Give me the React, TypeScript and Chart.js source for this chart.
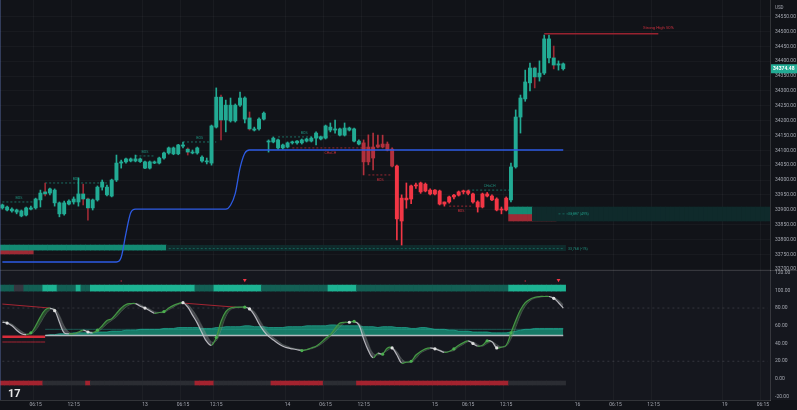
import React, { useEffect, useRef } from "react";
import { Chart, registerables } from "chart.js";

Chart.register(...registerables);

const FONT = "Roboto, 'DejaVu Sans', sans-serif";
const SLOTS = 162;

// time axis labels: [slot index, text]
const timeTicks: [number, string][] = [
  [7, "06:15"], [15, "12:15"], [30, "13"], [38, "06:15"], [45, "12:15"], [60, "14"],
  [68, "06:15"], [76, "12:15"], [91, "15"], [98, "06:15"], [106, "12:15"], [121, "16"],
  [129, "06:15"], [137, "12:15"], [152, "19"], [160, "06:15"],
];
const priceTicks = [
  34550, 34500, 34450, 34400, 34350, 34300, 34250, 34200, 34150, 34100,
  34050, 34000, 33950, 33900, 33850, 33800, 33750, 33700,
];
const oscTicks = [120, 100, 80, 60, 40, 20, 0, -20];

const opens = [
  33906, 33909, 33902, 33899, 33896, 33882, 33906, 33906, 33933, 33960,
  33956, 33966, 33923, 33886, 33919, 33926, 33926, 33953, 33936, 33906,
  33933, 33976, 33976, 33946, 34000, 34057, 34061, 34071, 34064, 34071,
  34061, 34040, 34061, 34057, 34074, 34091, 34108, 34088, 34118, 34104,
  34094, 34091, 34077, 34064, 34057, 34178, 34279, 34202, 34252, 34199,
  34252, 34276, 34209, 34172, 34172, 34205, 34131, 34128, 34108, 34118,
  34111, 34125, 34125, 34125, 34131, 34131, 34141, 34145, 34141, 34178,
  34168, 34172, 34151, 34175, 34172, 34131, 34125, 34061, 34111, 34118,
  34111, 34121, 34104, 34047, 33939, 33939, 33936, 33980, 33960, 33986,
  33966, 33953, 33963, 33919, 33926, 33943, 33949, 33960, 33963, 33953,
  33926, 33909, 33953, 33946, 33936, 33899, 33899, 33933, 34044, 34212,
  34273, 34327, 34377, 34347, 34360, 34475, 34411, 34387, 34391,
];
const highs = [
  33919, 33912, 33906, 33902, 33899, 33909, 33912, 33939, 33966, 33990,
  33973, 33970, 33926, 33929, 33933, 33943, 34007, 33986, 33939, 33936,
  33980, 34000, 33983, 34003, 34084, 34067, 34074, 34074, 34084, 34074,
  34064, 34064, 34064, 34077, 34094, 34111, 34111, 34120, 34128, 34108,
  34101, 34111, 34081, 34074, 34185, 34310, 34286, 34269, 34276, 34256,
  34296, 34280, 34229, 34178, 34209, 34229, 34135, 34145, 34138, 34121,
  34128, 34131, 34133, 34138, 34141, 34145, 34162, 34148, 34185, 34192,
  34202, 34175, 34192, 34178, 34175, 34135, 34135, 34152, 34158, 34151,
  34151, 34128, 34108, 34050, 33950, 33990, 33983, 33990, 33993, 33990,
  33970, 33968, 33966, 33926, 33946, 33952, 33963, 33966, 33966, 33956,
  33930, 33956, 33958, 33950, 33940, 33909, 33943, 34057, 34236, 34286,
  34370, 34394, 34380, 34401, 34488, 34488, 34451, 34401, 34394,
];
const lows = [
  33902, 33896, 33892, 33886, 33876, 33879, 33899, 33902, 33909, 33946,
  33950, 33912, 33876, 33882, 33916, 33919, 33912, 33916, 33865, 33899,
  33929, 33966, 33946, 33943, 33995, 34040, 34057, 34061, 34061, 34059,
  34038, 34037, 34055, 34054, 34070, 34087, 34085, 34085, 34108, 34084,
  34088, 34087, 34060, 34054, 34050, 34175, 34135, 34162, 34195, 34195,
  34248, 34192, 34168, 34165, 34168, 34202, 34094, 34125, 34104, 34104,
  34108, 34121, 34121, 34121, 34128, 34128, 34118, 34135, 34138, 34162,
  34158, 34148, 34148, 34165, 34128, 34118, 34017, 34051, 34034, 34108,
  34108, 34098, 34044, 33798, 33781, 33905, 33920, 33972, 33955, 33960,
  33950, 33950, 33916, 33912, 33922, 33936, 33946, 33953, 33950, 33922,
  33892, 33906, 33943, 33930, 33896, 33886, 33896, 33926, 34040, 34158,
  34265, 34300, 34310, 34333, 34355, 34394, 34374, 34370, 34370,
];
const closes = [
  33916, 33899, 33896, 33892, 33879, 33906, 33902, 33936, 33956, 33953,
  33970, 33923, 33886, 33923, 33929, 33936, 33953, 33936, 33906, 33933,
  33976, 33993, 33950, 34000, 34057, 34061, 34071, 34064, 34071, 34062,
  34040, 34061, 34057, 34074, 34091, 34108, 34088, 34118, 34114, 34094,
  34091, 34108, 34064, 34061, 34182, 34279, 34202, 34252, 34199, 34252,
  34276, 34205, 34172, 34168, 34205, 34225, 34128, 34141, 34135, 34108,
  34125, 34128, 34131, 34135, 34138, 34141, 34158, 34138, 34182, 34168,
  34172, 34151, 34175, 34168, 34131, 34121, 34061, 34111, 34074, 34111,
  34121, 34101, 34047, 33869, 33862, 33933, 33980, 33983, 33990, 33963,
  33953, 33966, 33919, 33926, 33943, 33949, 33960, 33963, 33955, 33926,
  33909, 33953, 33946, 33933, 33899, 33899, 33939, 34044, 34212, 34276,
  34330, 34377, 34347, 34360, 34475, 34411, 34387, 34391, 34374.48,
];

// trend state of each candle range
const trendSegments: [number, number, string][] = [
  [0, 75, "bull"], [76, 82, "bearWeak"], [83, 106, "bear"], [107, 118, "bull"],
];
const redWickIdx = [9, 17, 18, 39, 46, 52, 112, 116];

// blue trailing line, stepped levels [from, to, price]
const blueLevels: [number, number, number][] = [
  [0, 24, 33724], [25, 25, 33740], [26, 26, 33820], [27, 27, 33890], [28, 47, 33902],
  [48, 48, 33915], [49, 49, 33955], [50, 50, 34040], [51, 51, 34090], [52, 118, 34101],
];

// order-block zones
const zones = [
  { from: 35, to: 118, lo: 33762, hi: 33780, kind: "bullFaint" },
  { from: 0, to: 34, lo: 33764, hi: 33781, kind: "bull" },
  { from: 0, to: 6, lo: 33751, hi: 33764, kind: "bear" },
  { from: 112, to: 161, lo: 33862, hi: 33909, kind: "bullFaint" },
  { from: 107, to: 111, lo: 33886, hi: 33909, kind: "bull" },
  { from: 107, to: 116, lo: 33862, hi: 33886, kind: "bear" },
];
const zoneMidLevels: [number, number, number][] = [[35, 118, 33769], [117, 121, 33886]];
const zoneLabels: [number, number, string][] = [[119, 33886, "33,897 (49%)"], [119, 33769, "33,768 (-1%)"]];

// market structure breaks
const structures = [
  { from: 0, to: 7, price: 33926, label: "BOS", bull: true },
  { from: 9, to: 22, price: 33990, label: "BOS", bull: true },
  { from: 28, to: 32, price: 34081, label: "BOS", bull: true },
  { from: 38, to: 45, price: 34128, label: "BOS", bull: true },
  { from: 58, to: 69, price: 34145, label: "BOS", bull: true },
  { from: 61, to: 77, price: 34108, label: "CHoCH", bull: false },
  { from: 77, to: 82, price: 34017, label: "BOS", bull: false },
  { from: 94, to: 99, price: 33912, label: "BOS", bull: false },
  { from: 98, to: 107, price: 33966, label: "CHoCH", bull: true },
];
const strongHigh = { from: 114, to: 138, price: 34492, label: "Strong High 50%" };

// lower pane oscillator
const osc = [
  64, 63, 60, 55, 51, 50, 52, 60, 70, 78,
  80, 77, 64, 52, 51, 51, 53, 55, 53, 52,
  55, 60, 66, 68, 74, 80, 84, 85, 85, 82,
  80, 77, 74, 75, 76, 80, 83, 85, 86, 81,
  72, 63, 52, 42, 38, 47, 65, 76, 80, 81,
  81, 81, 79, 72, 62, 54, 48, 44, 40, 37,
  35, 34, 33, 32, 33, 35, 37, 41, 46, 50,
  57, 63, 64, 64, 65, 61, 45, 32, 24, 29,
  28, 35, 35, 27, 18, 19, 20, 27, 31, 34,
  35, 34, 32, 30, 31, 34, 38, 41, 43, 40,
  37, 38, 43, 42, 35, 36, 38, 52, 66, 78,
  86, 90, 92, 93, 93, 93, 91, 86, 80,
];
const signal = [
  66, 64, 62, 58, 54, 51, 51, 55, 63, 72,
  78, 79, 72, 60, 53, 51, 52, 54, 54, 53,
  53, 57, 62, 66, 70, 76, 81, 84, 85, 84,
  81, 79, 76, 75, 75, 78, 81, 84, 85, 84,
  78, 70, 60, 50, 42, 43, 55, 70, 78, 80,
  81, 81, 80, 76, 68, 59, 52, 47, 43, 39,
  37, 35, 34, 33, 33, 34, 36, 39, 43, 48,
  53, 59, 63, 64, 64, 63, 54, 40, 29, 27,
  29, 32, 35, 31, 23, 19, 19, 23, 29, 32,
  34, 35, 33, 31, 31, 32, 36, 39, 42, 42,
  39, 37, 40, 42, 39, 36, 37, 45, 58, 72,
  82, 88, 91, 92, 93, 93, 92, 89, 84,
];
const tealTop = [
  null, null, null, null, null, null, null, null, null,
  49, 50, 50, 51, 51, 51, 52, 52, 52, 52,
  52, 53, 53, 53, 54, 54, 54, 55, 55, 55,
  56, 56, 56, 56, 56, 57, 57, 57, 58, 58,
  58, 58, 58, 57, 57, 57, 58, 58, 59, 59,
  59, 59, 60, 60, 59, 59, 59, 58, 58, 58,
  58, 59, 59, 59, 59, 60, 60, 60, 60, 60,
  61, 61, 60, 60, 60, 60, 60, 59, 59, 59,
  58, 59, 59, 59, 58, 58, 58, 57, 57, 58,
  58, 57, 56, 56, 56, 55, 55, 54, 54, 54,
  53, 53, 53, 53, 52, 52, 52, 52, 53, 54,
  55, 56, 56, 57, 57, 57, 57, 57, 57, 57,
];
const baseLevel: [number, number, number] = [9, 118, 49];
const flatTealLevel: [number, number, number] = [9, 118, 56];
const dashedLevels = [80, 20];
const whiteDotIdx = [1, 11, 18, 30, 38, 52, 73, 82, 91, 99, 104, 116];
const greenDotIdx = [6, 20, 34, 45, 51, 63, 74, 80, 86, 95, 102, 107];
const triangleIdx = [51, 117];
const triangleLevel = 111.5;
const tinyDotIdx = [25, 110];
const redThick: [number, number, number] = [0, 9, 47.5];
const redThin: [number, number, number] = [0, 9, 41.7];
const redDiagonals: [number, number, number, number][] = [[0, 84.5, 10, 80], [38, 85.6, 49, 81]];

// state bands: 0 neutral, 1 weak, 2 strong
const topBandSegs: [number, number, number][] = [
  [0, 2, 1], [3, 4, 0], [5, 8, 1], [9, 11, 2], [12, 15, 1], [16, 16, 2], [17, 18, 1],
  [19, 40, 2], [41, 44, 1], [45, 54, 2], [55, 68, 1], [69, 74, 2], [75, 106, 1], [107, 118, 2],
];
const bottomBandSegs: [number, number, number][] = [
  [0, 8, 1], [9, 17, 0], [18, 18, 1], [19, 40, 0], [41, 44, 1], [45, 56, 0],
  [57, 67, 1], [68, 74, 0], [75, 106, 1], [107, 118, 0],
];
const topBandRange = [99.1, 105.9];
const bottomBandRange = [-6.8, -2.3];

function expand<T>(segs: [number, number, T][]): (T | null)[] {
  const out: (T | null)[] = new Array(SLOTS).fill(null);
  segs.forEach(([a, b, v]) => { for (let i = a; i <= b; i++) out[i] = v; });
  return out;
}
function pad<T>(arr: T[]): (T | null)[] {
  const out: (T | null)[] = new Array(SLOTS).fill(null);
  arr.forEach((v, i) => (out[i] = v));
  return out;
}

const BULL = "#22ab94";
const BEAR = "#f23645";
const BEAR_WEAK = "#b3313d";
const TXT = "#a3a6af";

export default function App() {
  const ref = useRef<HTMLCanvasElement>(null);

  useEffect(() => {
    const canvas = ref.current!;
    const labels = Array.from({ length: SLOTS }, (_, i) => {
      const t = timeTicks.find((l) => l[0] === i);
      return t ? t[1] : "";
    });
    const trend = expand(trendSegments);
    const candleColor = trend.map((t) => (t === "bull" ? BULL : t === "bearWeak" ? BEAR_WEAK : BEAR));
    const wickColor = candleColor.map((c, i) => (redWickIdx.includes(i) ? "#9c2a35" : c));
    const wickData = pad(lows.map((l, i) => [l, highs[i]]));
    const bodyData = pad(opens.map((o, i) => [o, closes[i]]));

    const zoneColor: Record<string, string> = { bull: "#138a73", bullFaint: "#0f2a2b", bear: "#9e2a35" };
    const barBase = { type: "bar", grouped: false, barPercentage: 1, categoryPercentage: 1, borderWidth: 0, borderSkipped: false };
    const lineBase = { type: "line", pointRadius: 0, borderWidth: 1, spanGaps: false, tension: 0, fill: false };

    const datasets: any[] = [];
    zones.forEach((z) => {
      datasets.push({
        ...barBase, yAxisID: "y", order: 30,
        data: expand([[z.from, z.to, [z.lo, z.hi]] as [number, number, number[]]]),
        backgroundColor: zoneColor[z.kind],
      });
    });
    zoneMidLevels.forEach((l) => {
      datasets.push({ ...lineBase, yAxisID: "y", order: 29, data: expand([l]), borderColor: "rgba(34,171,148,0.45)", borderDash: [2, 2] });
    });
    structures.forEach((s) => {
      datasets.push({
        ...lineBase, yAxisID: "y", order: 20, data: expand([[s.from, s.to, s.price]]),
        borderColor: s.bull ? "rgba(34,171,148,0.6)" : "rgba(242,54,69,0.6)", borderDash: [2, 2],
      });
    });
    datasets.push({ ...barBase, yAxisID: "y", order: 12, data: wickData, backgroundColor: wickColor, barThickness: 1 });
    datasets.push({ ...barBase, yAxisID: "y", order: 11, data: bodyData, backgroundColor: candleColor, barThickness: 3.3, minBarLength: 1 });
    datasets.push({ ...lineBase, yAxisID: "y", order: 9, data: expand([[strongHigh.from, strongHigh.to, strongHigh.price]]), borderColor: "rgba(160,35,48,0.95)", borderWidth: 1.5 });
    datasets.push({ ...lineBase, yAxisID: "y", order: 8, data: expand(blueLevels), borderColor: "#2d5be3", borderWidth: 1.3, cubicInterpolationMode: "monotone" });

    // lower pane
    const topBand = expand(topBandSegs);
    const botBand = expand(bottomBandSegs);
    const topCols = ["#34363f", "#135f54", "#1db393"];
    const botCols = ["#2b2d33", "#a3232f", "#a3232f"];
    datasets.push({ ...barBase, yAxisID: "y2", order: 30, data: topBand.map((s) => (s === null ? null : topBandRange)), backgroundColor: topBand.map((s) => (s === null ? "transparent" : topCols[s])) });
    datasets.push({ ...barBase, yAxisID: "y2", order: 30, data: botBand.map((s) => (s === null ? null : bottomBandRange)), backgroundColor: botBand.map((s) => (s === null ? "transparent" : botCols[s])) });
    dashedLevels.forEach((v) => {
      datasets.push({ ...lineBase, yAxisID: "y2", order: 28, data: expand([[0, SLOTS - 1, v]]), borderColor: "rgba(200,200,210,0.18)", borderDash: [2, 3] });
    });
    datasets.push({ ...lineBase, yAxisID: "y2", order: 25, data: pad(tealTop), borderColor: "rgba(34,171,148,0.9)", borderWidth: 0.8, fill: { target: "+1" }, backgroundColor: "rgba(24,150,124,0.78)" });
    datasets.push({ ...lineBase, yAxisID: "y2", order: 24, data: expand([baseLevel]), borderColor: "rgba(205,205,210,0.85)", borderWidth: 1.5 });
    datasets.push({ ...lineBase, yAxisID: "y2", order: 23, data: expand([flatTealLevel]), borderColor: "rgba(34,171,148,0.55)", borderWidth: 0.8 });
    datasets.push({ ...lineBase, yAxisID: "y2", order: 18, data: expand([redThick]), borderColor: "rgba(225,45,60,0.95)", borderWidth: 2.5 });
    datasets.push({ ...lineBase, yAxisID: "y2", order: 18, data: expand([redThin]), borderColor: "rgba(200,40,55,0.8)", borderWidth: 1 });
    redDiagonals.forEach(([a, va, b, vb]) => {
      const d: (number | null)[] = new Array(SLOTS).fill(null);
      d[a] = va; d[b] = vb;
      datasets.push({ ...lineBase, yAxisID: "y2", order: 18, data: d, spanGaps: true, borderColor: "rgba(200,40,55,0.8)", borderWidth: 1 });
    });
    datasets.push({ ...lineBase, yAxisID: "y2", order: 16, data: pad(signal), borderColor: "rgba(150,150,155,0.35)", borderWidth: 0.8, tension: 0.4 });
    datasets.push({
      ...lineBase, yAxisID: "y2", order: 15, data: pad(osc), borderWidth: 1.2, tension: 0.4,
      borderColor: "rgba(210,210,215,0.85)",
      segment: { borderColor: (c: any) => (c.p1.parsed.y >= c.p0.parsed.y ? "rgba(70,150,70,1)" : "rgba(205,205,210,0.85)") },
      fill: { target: "-1", above: "rgba(60,140,60,0.45)", below: "rgba(150,150,155,0.4)" },
    });
    const dots = (idxs: number[], vals: number[]) => {
      const d: (number | null)[] = new Array(SLOTS).fill(null);
      idxs.forEach((i) => (d[i] = vals[i]));
      return d;
    };
    datasets.push({ ...lineBase, yAxisID: "y2", order: 5, showLine: false, data: dots(whiteDotIdx, osc), pointRadius: 1.6, pointBackgroundColor: "#e0e0e0", pointBorderWidth: 0 });
    datasets.push({ ...lineBase, yAxisID: "y2", order: 5, showLine: false, data: dots(greenDotIdx, osc), pointRadius: 1.6, pointBackgroundColor: "#4caf50", pointBorderWidth: 0 });
    const tri: (number | null)[] = new Array(SLOTS).fill(null);
    triangleIdx.forEach((i) => (tri[i] = triangleLevel));
    datasets.push({ ...lineBase, yAxisID: "y2", order: 5, showLine: false, data: tri, pointStyle: "triangle", rotation: 180, pointRadius: 2.2, pointBackgroundColor: BEAR, pointBorderWidth: 0 });
    const tiny: (number | null)[] = new Array(SLOTS).fill(null);
    tinyDotIdx.forEach((i) => (tiny[i] = triangleLevel - 1));
    datasets.push({ ...lineBase, yAxisID: "y2", order: 5, showLine: false, data: tiny, pointRadius: 0.7, pointBackgroundColor: "#c0303c", pointBorderWidth: 0 });

    const overlay = {
      id: "overlay",
      beforeDraw(chart: any) {
        const { ctx, width, height } = chart;
        const y2 = chart.scales.y2;
        ctx.save();
        ctx.fillStyle = "#111318";
        ctx.fillRect(0, 0, width, height);
        ctx.fillStyle = "#15171e";
        ctx.fillRect(0, y2.top, width, y2.bottom - y2.top);
        ctx.restore();
      },
      afterDraw(chart: any) {
        const { ctx, width } = chart;
        const xs = chart.scales.x;
        const ys = chart.scales.y;
        ctx.save();
        // pane separator
        ctx.strokeStyle = "rgba(255,255,255,0.14)";
        ctx.lineWidth = 1;
        ctx.beginPath();
        ctx.moveTo(0, Math.round(ys.bottom) + 0.5);
        ctx.lineTo(width, Math.round(ys.bottom) + 0.5);
        ctx.stroke();
        ctx.strokeStyle = "rgba(90,110,170,0.45)";
        ctx.beginPath();
        ctx.moveTo(0.5, 0);
        ctx.lineTo(0.5, chart.chartArea.bottom);
        ctx.stroke();

        // structure labels
        ctx.font = `3.6px ${FONT}`;
        ctx.textAlign = "center";
        ctx.textBaseline = "middle";
        structures.forEach((s) => {
          const x = xs.getPixelForValue((s.from + s.to) / 2);
          const y = ys.getPixelForValue(s.price) + (s.bull ? -4 : 5);
          ctx.fillStyle = s.bull ? "rgba(34,171,148,0.8)" : "rgba(242,54,69,0.8)";
          ctx.fillText(s.label, x, y);
        });
        // strong high label
        ctx.font = `4.2px ${FONT}`;
        ctx.fillStyle = "rgba(220,50,65,0.9)";
        ctx.fillText(strongHigh.label, xs.getPixelForValue(strongHigh.to), ys.getPixelForValue(strongHigh.price) - 6);
        // zone labels
        ctx.textAlign = "left";
        ctx.font = `3.6px ${FONT}`;
        ctx.fillStyle = "rgba(34,171,148,0.8)";
        zoneLabels.forEach(([i, p, t]) => ctx.fillText(t, xs.getPixelForValue(i), ys.getPixelForValue(p)));

        // current price label
        const last = closes[closes.length - 1];
        const py = ys.getPixelForValue(last);
        ctx.fillStyle = BULL;
        ctx.fillRect(ys.left + 1, py - 4.5, width - ys.left - 1, 9);
        ctx.fillStyle = "#ffffff";
        ctx.font = `bold 5px ${FONT}`;
        ctx.fillText(last.toFixed(2), ys.left + 3, py);
        // currency
        ctx.fillStyle = TXT;
        ctx.font = `4.5px ${FONT}`;
        ctx.fillText("USD", ys.left + 5, 8);
        // logo
        ctx.fillStyle = "#e6e6e6";
        ctx.font = `bold 11px ${FONT}`;
        ctx.textBaseline = "alphabetic";
        ctx.fillText("17", 8, 397);
        ctx.restore();
      },
    };

    const noPad = (s: any) => {
      s.paddingTop = 0; s.paddingBottom = 0; s.paddingLeft = 0; s.paddingRight = 0;
    };

    const chart = new Chart(canvas, {
      type: "bar",
      data: { labels, datasets },
      options: {
        animation: false,
        responsive: false,
        maintainAspectRatio: false,
        devicePixelRatio: 1,
        events: [],
        layout: { padding: 0, autoPadding: false },
        plugins: { legend: { display: false }, tooltip: { enabled: false } },
        scales: {
          x: {
            type: "category",
            offset: true,
            grid: { color: (c: any) => (labels[c.index] ? "rgba(255,255,255,0.035)" : "transparent"), drawTicks: false },
            border: { display: true, color: "rgba(255,255,255,0.14)" },
            ticks: { autoSkip: false, maxRotation: 0, minRotation: 0, color: TXT, font: { size: 5, family: FONT }, padding: 2, callback: (_v: any, i: number) => labels[i] },
            afterFit: (s: any) => { s.height = 10; noPad(s); },
          },
          y: {
            position: "right",
            stack: "panes",
            stackWeight: 270,
            bounds: "data",
            min: 33697,
            max: 34606,
            afterBuildTicks: (s: any) => { s.ticks = priceTicks.map((v) => ({ value: v })); },
            grid: { color: "rgba(255,255,255,0.03)", drawTicks: false },
            border: { display: true, color: "rgba(255,255,255,0.14)" },
            ticks: { autoSkip: false, color: TXT, font: { size: 5, family: FONT }, padding: 5, callback: (v: any) => Number(v).toFixed(2) },
            afterFit: (s: any) => { s.width = 27; noPad(s); },
          },
          y2: {
            position: "right",
            stack: "panes",
            stackWeight: 130,
            bounds: "data",
            min: -23.7,
            max: 122.9,
            afterBuildTicks: (s: any) => { s.ticks = oscTicks.map((v) => ({ value: v })); },
            grid: { display: false, drawTicks: false },
            border: { display: true, color: "rgba(255,255,255,0.14)" },
            ticks: { autoSkip: false, color: TXT, font: { size: 5, family: FONT }, padding: 5, callback: (v: any) => Number(v).toFixed(2) },
            afterFit: (s: any) => { s.width = 27; noPad(s); },
          },
        },
      } as any,
      plugins: [overlay],
    } as any);
    return () => chart.destroy();
  }, []);

  return (
    <div style={{ position: "fixed", left: 0, top: 0, width: 797, height: 410, background: "#111318" }}>
      <canvas ref={ref} width={797} height={410} style={{ display: "block", width: 797, height: 410 }} />
    </div>
  );
}
